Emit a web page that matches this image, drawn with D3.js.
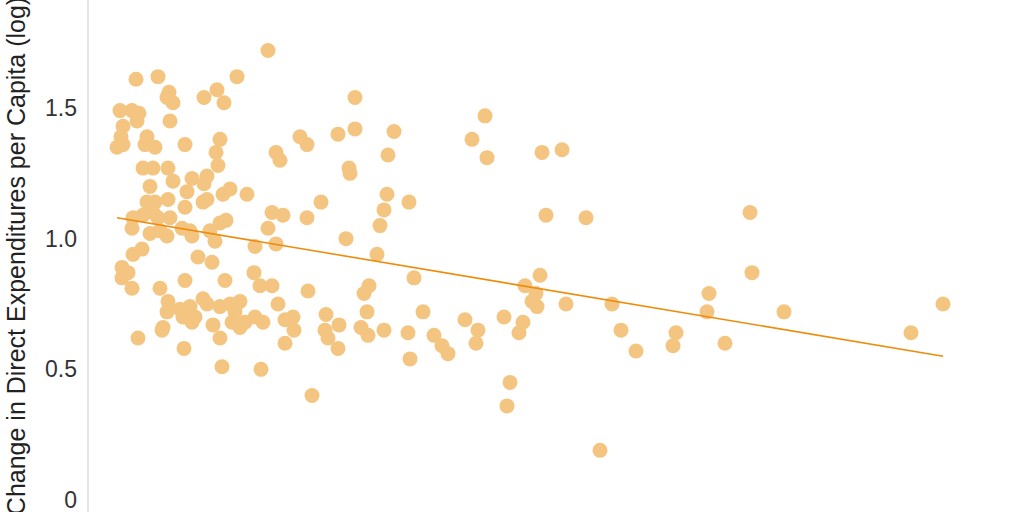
<!DOCTYPE html>
<html>
<head>
<meta charset="utf-8">
<style>
  body { margin: 0; background: #fff; font-family: "Liberation Sans", Arial, sans-serif; }
  svg { display: block; }
  .tick text { fill: #333; font-size: 23px; }
</style>
<script src="https://cdn.jsdelivr.net/npm/d3@7"></script>
</head>
<body>
<svg id="chart"></svg>
<script>
// values (x axis is not shown, units arbitrary)
const xVals = [1.80,0.48,0.70,1.49,0.81,0.79,0.85,1.16,1.29,1.36,0.32,0.44,0.51,0.49,0.35,0.33,0.29,0.35,0.59,0.57,
  0.67,0.82,0.97,1.32,1.28,1.30,1.88,1.92,2.12,0.55,0.65,0.80,0.85,1.04,1.19,1.16,0.62,0.99,0.80,0.59,
  0.67,1.35,1.42,1.59,1.15,1.19,0.97,0.45,0.55,0.65,0.70,0.44,0.62,0.82,0.79,0.72,0.94,1.02,1.04,1.22,
  1.27,1.32,1.38,1.84,1.95,1.80,1.67,1.88,0.45,0.54,1.10,1.24,0.34,0.40,0.34,0.44,0.72,0.97,1.37,1.66,
  1.72,1.84,1.90,0.80,0.79,0.92,1.02,1.07,1.04,1.15,1.19,1.32,1.42,1.52,1.47,1.44,1.52,1.57,1.67,1.75,
  1.25,1.32,0.75,1.97,2.05,2.06,1.97,0.50,0.96,1.34,1.73,0.95,0.99,0.74,2.67,2.19,2.50,2.67,3.06,3.00,
  2.61,2.62,3.84,3.97,3.99,4.54,4.74,2.19,2.33,2.99,2.96,2.92,3.21,2.58,2.89,4.58,4.98,3.26,4.52,4.37,
  4.48,4.44,4.49,4.78,2.20,2.81,2.76,2.79,2.38,2.51,2.37,2.40,2.50,2.73,2.80,2.96,3.20,3.22,3.35,3.46,
  3.54,3.60,3.77,3.90,3.88,4.16,4.35,4.31,2.24,4.22,4.19,6.62,6.64,5.24,5.33,5.48,5.88,5.85,6.21,6.19,
  6.37,6.96,8.23,8.55,5.12];
const yVals = [1.72,1.61,1.62,1.62,1.56,1.54,1.52,1.54,1.57,1.52,1.49,1.49,1.48,1.45,1.43,1.39,1.35,1.36,1.39,1.36,
  1.35,1.45,1.36,1.38,1.33,1.28,1.33,1.30,1.39,1.27,1.27,1.27,1.22,1.23,1.24,1.21,1.20,1.18,1.15,1.14,
  1.14,1.17,1.19,1.17,1.14,1.15,1.12,1.08,1.09,1.10,1.08,1.04,1.02,1.08,1.01,1.03,1.04,1.03,1.01,1.03,
  0.99,1.06,1.07,1.10,1.09,1.04,0.97,0.98,0.94,0.96,0.93,0.91,0.89,0.87,0.85,0.81,0.81,0.84,0.84,0.87,
  0.82,0.82,0.75,0.76,0.72,0.73,0.74,0.70,0.68,0.77,0.75,0.74,0.75,0.76,0.72,0.68,0.66,0.68,0.70,0.68,
  0.67,0.62,0.66,0.69,0.70,0.65,0.60,0.62,0.58,0.51,0.50,0.70,0.72,0.65,1.54,1.36,1.40,1.42,1.41,1.32,
  1.27,1.25,1.38,1.47,1.31,1.33,1.34,1.08,1.14,1.17,1.11,1.05,1.14,1.00,0.94,1.09,1.08,0.85,0.86,0.82,
  0.79,0.76,0.74,0.75,0.80,0.82,0.79,0.72,0.71,0.67,0.65,0.62,0.58,0.66,0.63,0.65,0.64,0.54,0.72,0.63,
  0.59,0.56,0.69,0.65,0.60,0.70,0.68,0.64,0.40,0.45,0.36,1.10,0.87,0.75,0.65,0.57,0.64,0.59,0.79,0.72,
  0.60,0.72,0.64,0.75,0.19];
const yTicks = [0, 0.5, 1.0, 1.5];
const trendX = [0.29, 8.55];
const trendY = [1.08, 0.55];
const yTitle = "Change in Direct Expenditures per Capita (log)";

const width = 1024, height = 512;
const svg = d3.select("#chart").attr("width", width).attr("height", height);

const x = d3.scaleLinear().domain([0, 9]).range([88, 988]);
const y = d3.scaleLinear().domain([0, 1.5]).range([500, 108]);

// axis line runs the full height
svg.append("line")
  .attr("x1", x(0)).attr("x2", x(0))
  .attr("y1", 0).attr("y2", height)
  .attr("stroke", "#d4d4d4")
  .attr("stroke-width", 1.2);

const yAxis = svg.append("g")
  .attr("transform", "translate(" + x(0) + ",0)")
  .call(d3.axisLeft(y).tickValues(yTicks).tickSize(0).tickPadding(11)
    .tickFormat(d => d === 0 ? "0" : d3.format(".1f")(d)));
yAxis.select(".domain").remove();
yAxis.selectAll("text").style("font-family", "inherit");

svg.append("text")
  .attr("transform", "translate(25,256) rotate(-90)")
  .attr("text-anchor", "middle")
  .attr("fill", "#222")
  .style("font-size", "25px")
  .text(yTitle);

const points = xVals.map((d, i) => ({x: d, y: yVals[i]}));

svg.append("g")
  .selectAll("circle")
  .data(points)
  .enter().append("circle")
  .attr("cx", d => x(d.x))
  .attr("cy", d => y(d.y))
  .attr("r", 7.5)
  .attr("fill", "#f4c580");

svg.append("line")
  .attr("x1", x(trendX[0])).attr("y1", y(trendY[0]))
  .attr("x2", x(trendX[1])).attr("y2", y(trendY[1]))
  .attr("stroke", "#ee8c0c")
  .attr("stroke-width", 1.6);
</script>
</body>
</html>
